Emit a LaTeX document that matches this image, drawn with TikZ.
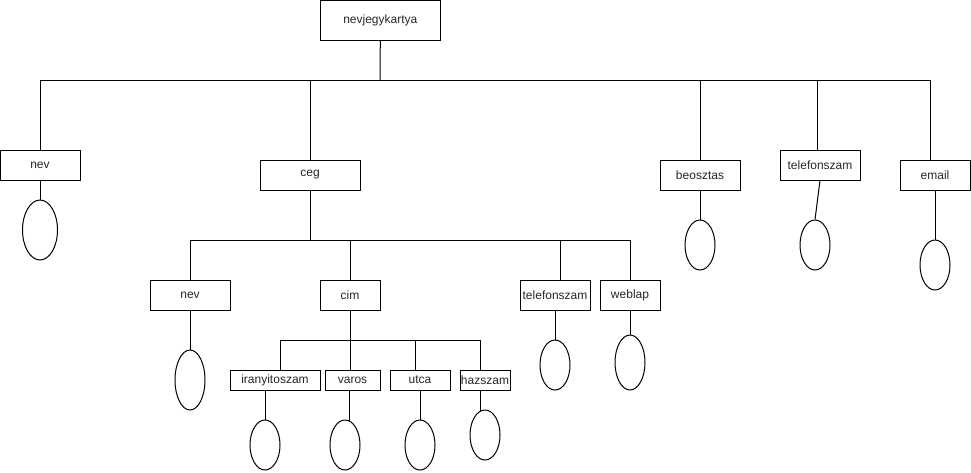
\documentclass[tikz,border=0pt]{standalone}
\usepackage{fontspec}
\setmainfont{Liberation Sans}
\usetikzlibrary{shapes.geometric}
\begin{document}
\begin{tikzpicture}[x=1pt,y=-1pt,
  ent/.style={draw, line width=1pt, rectangle, inner sep=0pt, font=\fontsize{12}{14}\selectfont, text=black!85},
  attr/.style={draw, line width=1pt, ellipse, inner sep=0pt, minimum width=30pt, minimum height=50pt},
  conn/.style={line width=1pt}]
\useasboundingbox (0,0) rectangle (971,472);
% entities
\node[ent, minimum width=120pt, minimum height=40pt] (root) at (380.3,20) {nevjegykartya};
\node[ent, minimum width=80pt, minimum height=30pt] (nev) at (40,165) {nev};
\node[ent, minimum width=100pt, minimum height=30pt] (ceg) at (310,175) {ceg};
\node[ent, minimum width=80pt, minimum height=30pt] (beo) at (700,175) {beosztas};
\node[ent, minimum width=80pt, minimum height=30pt] (tel) at (820,165) {telefonszam};
\node[ent, minimum width=70pt, minimum height=30pt] (email) at (935,175) {email};
\node[ent, minimum width=80pt, minimum height=30pt] (nev2) at (190,295) {nev};
\node[ent, minimum width=60pt, minimum height=30pt] (cim) at (350,295) {cim};
\node[ent, minimum width=70pt, minimum height=30pt] (tel2) at (555,295) {telefonszam};
\node[ent, minimum width=60pt, minimum height=30pt] (web) at (630,295) {weblap};
\node[ent, minimum width=90pt, minimum height=20pt] (irsz) at (275,380) {iranyitoszam};
\node[ent, minimum width=55pt, minimum height=20pt] (varos) at (352.5,380) {varos};
\node[ent, minimum width=60pt, minimum height=20pt] (utca) at (420,380) {utca};
\node[ent, minimum width=50pt, minimum height=20pt] (haz) at (485,380) {hazszam};
% attributes
\node[attr, minimum width=35pt, minimum height=60pt] (enev) at (40,230) {};
\node[attr] (ebeo) at (700,245) {};
\node[attr] (etel) at (815,245) {};
\node[attr] (eemail) at (935,265) {};
\node[attr, minimum height=60pt] (enev2) at (190,380) {};
\node[attr] (etel2) at (555,365) {};
\node[attr, minimum height=55pt] (eweb) at (630,362.5) {};
\node[attr] (eirsz) at (265,445) {};
\node[attr] (evaros) at (345,445) {};
\node[attr] (eutca) at (420,445) {};
\node[attr] (ehaz) at (485,435) {};
% bus coordinates
\coordinate (b0) at (380,80);
\coordinate (b1) at (40,80);
\coordinate (b2) at (310,80);
\coordinate (b3) at (700,80);
\coordinate (b4) at (817.3,80);
\coordinate (b5) at (930,80);
\coordinate (c0) at (310,240);
\coordinate (c1) at (190,240);
\coordinate (c2) at (350,240);
\coordinate (c3) at (560,240);
\coordinate (c4) at (630,240);
\coordinate (d0) at (350,340);
\coordinate (d1) at (280,340);
\coordinate (d2) at (350,340);
\coordinate (d3) at (415,340);
\coordinate (d4) at (480,340);
% top level
\draw[conn] (root.south) -- (b0);
\draw[conn] (b1) -- (b5);
\foreach \b/\n in {b1/nev, b2/ceg, b3/beo, b4/tel, b5/email}
  \draw[conn] (\b) -- (\b |- \n.north);
% ceg level
\draw[conn] (ceg.south) -- (c0);
\draw[conn] (c1) -- (c4);
\foreach \b/\n in {c1/nev2, c2/cim, c3/tel2, c4/web}
  \draw[conn] (\b) -- (\b |- \n.north);
% cim level
\draw[conn] (cim.south) -- (d0);
\draw[conn] (d1) -- (d4);
\foreach \b/\n in {d1/irsz, d2/varos, d3/utca, d4/haz}
  \draw[conn] (\b) -- (\b |- \n.north);
% attribute links
\draw[conn] (nev.south) -- (enev.north);
\draw[conn] (beo.south) -- (ebeo.north);
\draw[conn] (tel.south) -- (etel.north);
\draw[conn] (email.south) -- (eemail.north);
\draw[conn] (nev2.south) -- (enev2.north);
\draw[conn] (tel2.south) -- (etel2.north);
\draw[conn] (web.south) -- (eweb.north);
\draw[conn] (eirsz.north |- irsz.south) -- (eirsz.north);
\draw[conn] (evaros.80 |- varos.south) -- (evaros.80);
\draw[conn] (utca.south) -- (eutca.north);
\draw[conn] (ehaz.100 |- haz.south) -- (ehaz.100);
\end{tikzpicture}
\end{document}
